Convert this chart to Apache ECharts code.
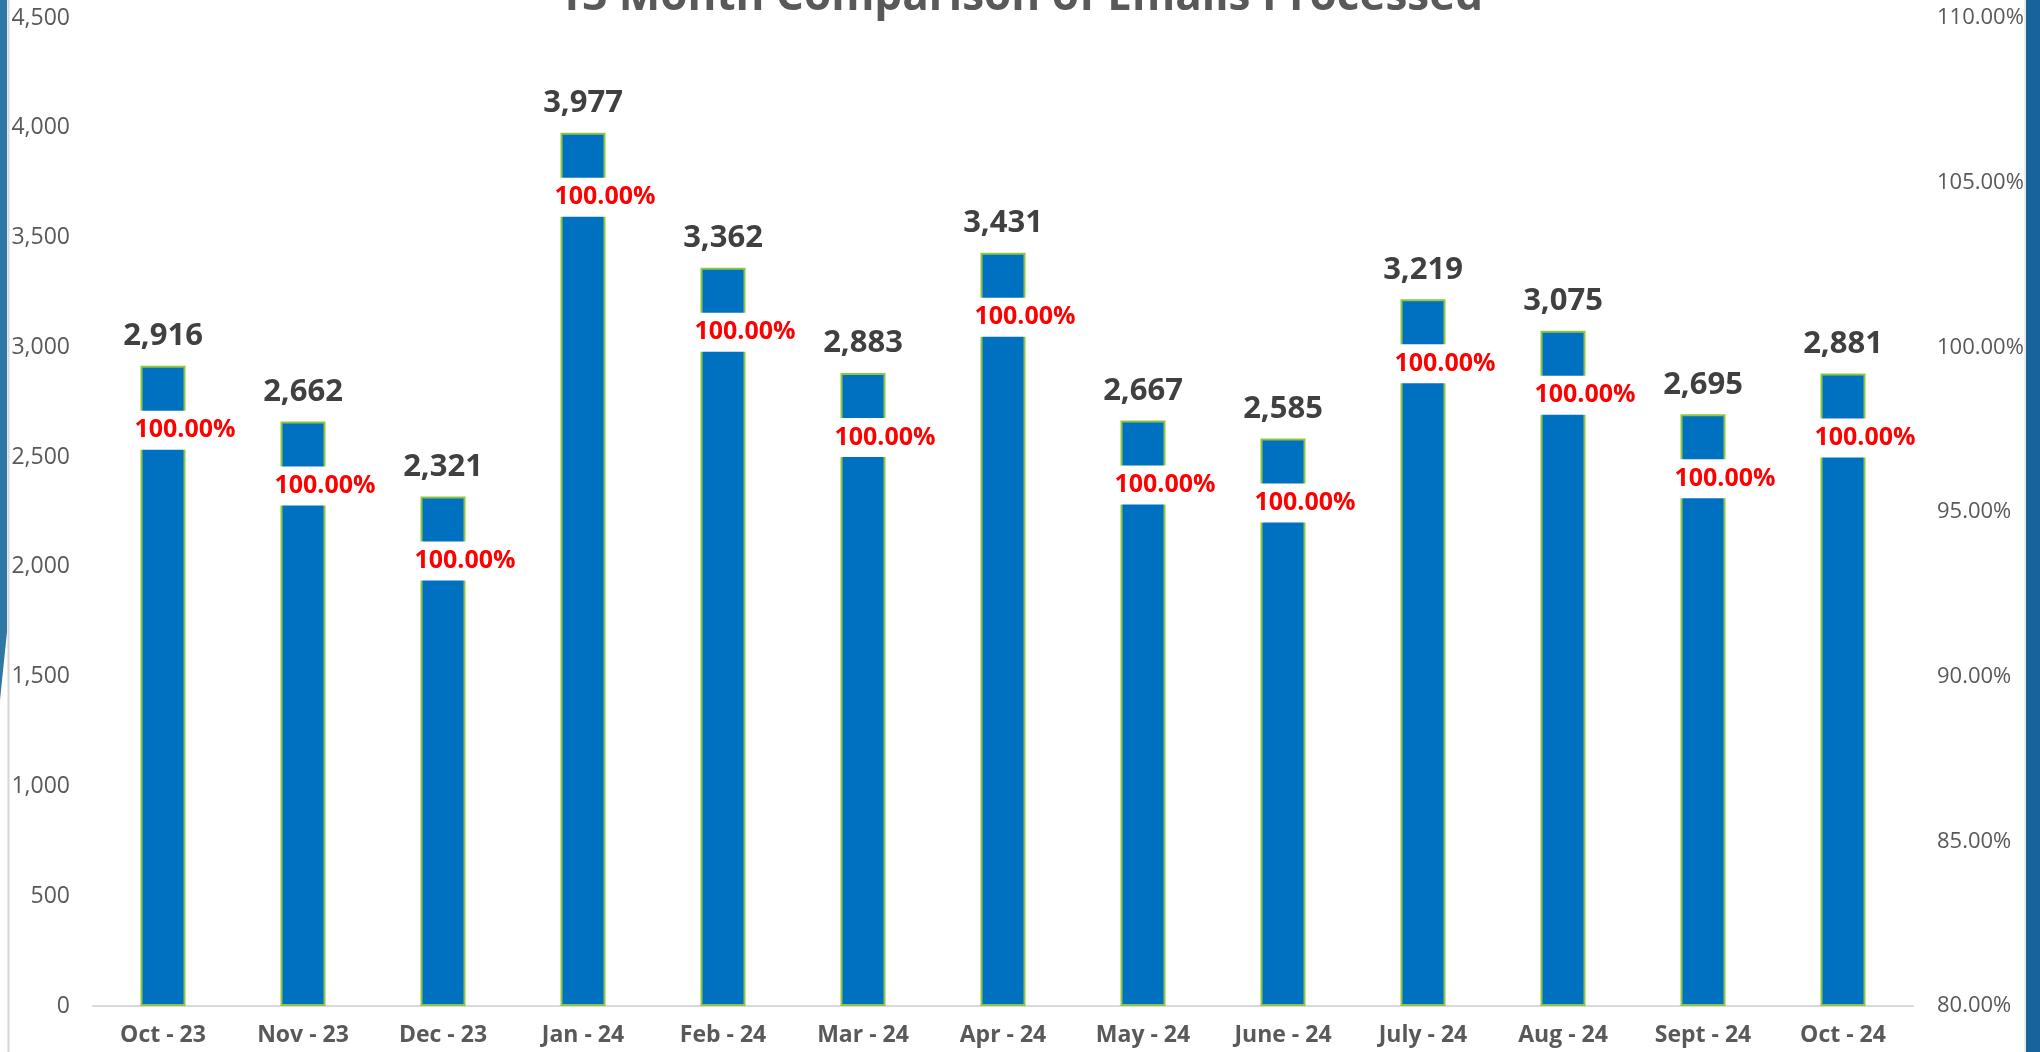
<!DOCTYPE html>
<html>
<head>
<meta charset="utf-8">
<script src="https://cdn.jsdelivr.net/npm/echarts@6/dist/echarts.min.js"></script>
<style>
html,body{margin:0;padding:0;background:#fff;}
#main{width:2040px;height:1052px;}
</style>
</head>
<body>
<div id="main"></div>
<script>
const titleText = '13 Month Comparison of Emails Processed';
const categories = ['Oct - 23','Nov - 23','Dec - 23','Jan - 24','Feb - 24','Mar - 24','Apr - 24','May - 24','June - 24','July - 24','Aug - 24','Sept - 24','Oct - 24'];
const emailsProcessed = [2916, 2662, 2321, 3977, 3362, 2883, 3431, 2667, 2585, 3219, 3075, 2695, 2881];
const percentProcessed = [1, 1, 1, 1, 1, 1, 1, 1, 1, 1, 1, 1, 1];

const FONT = '"Open Sans", "DejaVu Sans", sans-serif';
const chart = echarts.init(document.getElementById('main'));
chart.setOption({
  animation: false,
  backgroundColor: '#ffffff',
  title: {
    text: titleText,
    left: 'center',
    top: -30,
    textStyle: { fontFamily: FONT, fontSize: 44, fontWeight: 'bold', color: '#595959' }
  },
  graphic: [
    { type: 'polygon', shape: { points: [[0,0],[7,0],[7,632],[0,700]] }, style: { fill: '#2f78a6' }, z: 100 },
    { type: 'line', shape: { x1: 8.5, y1: 0, x2: 8.5, y2: 1052 }, style: { stroke: '#d6d6d6', lineWidth: 2 }, z: 100 },
    { type: 'rect', shape: { x: 2026, y: 0, width: 14, height: 1052 }, style: { fill: '#18649a' }, z: 100 },
    { type: 'line', shape: { x1: 2025, y1: 0, x2: 2025, y2: 1052 }, style: { stroke: '#d6d6d6', lineWidth: 1 }, z: 100 }
  ],
  grid: { left: 93, right: 127, top: 18, bottom: 46, containLabel: false },
  xAxis: {
    type: 'category',
    data: categories,
    axisLine: { lineStyle: { color: '#d9d9d9', width: 2 } },
    axisTick: { show: false },
    axisLabel: { fontFamily: FONT, fontSize: 23, fontWeight: 'bold', color: '#595959', margin: 18 }
  },
  yAxis: [
    {
      type: 'value', min: 0, max: 4500, interval: 500,
      splitLine: { show: false },
      axisLine: { show: false }, axisTick: { show: false },
      axisLabel: { fontFamily: FONT, fontSize: 23, color: '#595959', margin: 23,
        formatter: v => v.toLocaleString('en-US') }
    },
    {
      type: 'value', min: 0.8, max: 1.1, interval: 0.05,
      splitLine: { show: false },
      axisLine: { show: false }, axisTick: { show: false },
      axisLabel: { fontFamily: FONT, fontSize: 22, color: '#595959', margin: 24,
        formatter: v => (v * 100).toFixed(2) + '%' }
    }
  ],
  series: [
    {
      name: 'Emails Processed',
      type: 'bar',
      data: emailsProcessed,
      barWidth: 45,
      itemStyle: { color: '#0070c0', borderColor: '#8dc63f', borderWidth: 2 },
      label: {
        show: true, position: 'top', distance: 14,
        fontFamily: FONT, fontSize: 31, fontWeight: 'bold', color: '#404040',
        formatter: p => p.value.toLocaleString('en-US')
      },
      z: 2
    },
    {
      name: 'Percent',
      type: 'bar',
      data: emailsProcessed,
      barWidth: 45,
      barGap: '-100%',
      itemStyle: { color: 'rgba(0,0,0,0)' },
      label: {
        show: true, position: 'insideTop', distance: 45, offset: [22, 0],
        fontFamily: FONT, fontSize: 25, fontWeight: 'bold', color: '#ff0000',
        backgroundColor: '#ffffff', padding: [7, 3, 7, 3], lineHeight: 25,
        formatter: p => (percentProcessed[p.dataIndex] * 100).toFixed(2) + '%'
      },
      z: 3
    }
  ]
});
</script>
</body>
</html>
